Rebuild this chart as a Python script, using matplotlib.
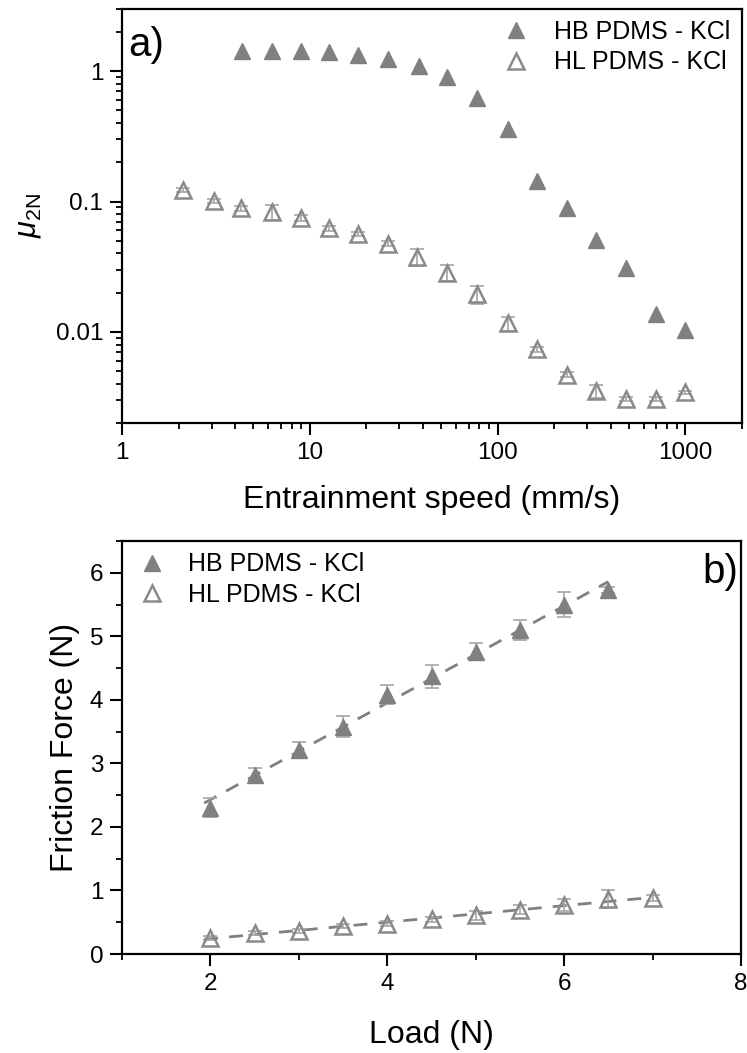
import numpy as np
import matplotlib
matplotlib.use("Agg")
import matplotlib.pyplot as plt
from matplotlib.ticker import LogLocator, NullFormatter, FixedLocator, MultipleLocator

plt.rcParams['font.family'] = ['Liberation Sans', 'DejaVu Sans']
plt.rcParams['mathtext.fontset'] = 'custom'
plt.rcParams['mathtext.rm'] = 'Liberation Sans'
plt.rcParams['mathtext.it'] = 'Liberation Sans:italic'

# ---- Panel a) data ----
speed_hb = [4.35, 6.3, 9.0, 12.6, 18, 26, 38, 54, 78, 113, 163, 233, 336, 480, 700, 1000]
mu_hb = [1.42, 1.42, 1.42, 1.40, 1.34, 1.23, 1.09, 0.90, 0.625, 0.36, 0.143, 0.089, 0.051, 0.031, 0.0137, 0.0103]

speed_hl = [2.1, 3.1, 4.3, 6.3, 9.0, 12.6, 18, 26, 37, 54, 78, 113, 163, 233, 336, 480, 700, 1000]
mu_hl = [0.122, 0.101, 0.0887, 0.0835, 0.0743, 0.0623, 0.0561, 0.0475, 0.0376, 0.0285, 0.0194,
         0.0116, 0.00736, 0.00469, 0.00353, 0.00305, 0.00305, 0.00343]
mu_hl_err = [0.004, 0.004, 0.004, 0.011, 0.004, 0.003, 0.002, 0.002, 0.0055, 0.004, 0.003,
             0.0015, 0.0003, 0.0002, 0.0004, 0.0001, 0.0001, 0.0001]

# ---- Panel b) data ----
load_hb = [2.0, 2.5, 3.0, 3.5, 4.0, 4.5, 5.0, 5.5, 6.0, 6.5]
force_hb = [2.30, 2.82, 3.21, 3.58, 4.08, 4.37, 4.76, 5.10, 5.50, 5.73]
force_hb_err = [0.15, 0.10, 0.12, 0.16, 0.15, 0.18, 0.13, 0.15, 0.20, 0.05]

load_hl = [2.0, 2.5, 3.0, 3.5, 4.0, 4.5, 5.0, 5.5, 6.0, 6.5, 7.0]
force_hl = [0.25, 0.33, 0.36, 0.44, 0.48, 0.55, 0.61, 0.70, 0.77, 0.86, 0.88]
force_hl_err = [0.03, 0.03, 0.03, 0.03, 0.04, 0.04, 0.07, 0.07, 0.10, 0.14, 0.05]

label_hb = "HB PDMS - KCl"
label_hl = "HL PDMS - KCl"

fill_c = '#808080'
edge_c = '#8a8a8a'
err_c = '#a6a6a6'

fig = plt.figure(figsize=(7.47, 10.53), dpi=100)

def style_axes(ax):
    for s in ax.spines.values():
        s.set_linewidth(1.6)
    ax.tick_params(which='major', direction='out', length=8.5, width=1.5, labelsize=17.5,
                   pad=5, top=False, right=False)
    ax.tick_params(which='minor', direction='out', length=4.5, width=1.3, top=False, right=False)

# ---- Panel a ----
ax1 = fig.add_axes([0.1633, 0.5983, 0.8300, 0.3932])
ax1.set_xscale('log')
ax1.set_yscale('log')
ax1.errorbar(speed_hl, mu_hl, yerr=mu_hl_err, fmt='none', ecolor=err_c, elinewidth=1.2,
             capsize=5, capthick=1.2, zorder=2)
ax1.plot(speed_hb, mu_hb, linestyle='none', marker='^', ms=11, mfc=fill_c, mec=fill_c,
         label=label_hb, zorder=3)
ax1.plot(speed_hl, mu_hl, linestyle='none', marker='^', ms=11, mfc='none', mec=edge_c,
         mew=1.8, label=label_hl, zorder=3)
ax1.set_xlim(1, 2000)
ax1.set_ylim(0.002, 3)
ax1.set_xticks([1, 10, 100, 1000])
ax1.set_xticklabels(['1', '10', '100', '1000'])
ax1.set_yticks([0.01, 0.1, 1])
ax1.set_yticklabels(['0.01', '0.1', '1'])
ax1.xaxis.set_minor_locator(LogLocator(base=10, subs=np.arange(2, 10)))
ax1.yaxis.set_minor_locator(LogLocator(base=10, subs=np.arange(2, 10)))
ax1.xaxis.set_minor_formatter(NullFormatter())
ax1.yaxis.set_minor_formatter(NullFormatter())
style_axes(ax1)
ax1.set_xlabel('Entrainment speed (mm/s)', fontsize=23, labelpad=15)
ax1.set_ylabel(r'$\mu_{\mathrm{2N}}$', fontsize=22)
ax1.yaxis.set_label_coords(-0.127, 0.5)
ax1.legend(loc='upper right', frameon=False, fontsize=18, handletextpad=0.8,
           borderaxespad=0.05, labelspacing=0.25, handlelength=1.5)
ax1.text(0.01, 0.96, 'a)', transform=ax1.transAxes, fontsize=29, va='top', ha='left')

# ---- Panel b ----
ax2 = fig.add_axes([0.1633, 0.0940, 0.8287, 0.3922])
p_hb = np.polyfit(load_hb, force_hb, 1)
p_hl = np.polyfit(load_hl, force_hl, 1)
xf_hb = np.array([load_hb[0] - 0.07, load_hb[-1]])
xf_hl = np.array([load_hl[0] - 0.07, load_hl[-1]])
ax2.plot(xf_hb, np.polyval(p_hb, xf_hb), linestyle=(0, (5, 4)), color=fill_c, lw=2, zorder=1)
ax2.plot(xf_hl, np.polyval(p_hl, xf_hl), linestyle=(0, (5, 4)), color=fill_c, lw=2, zorder=1)
ax2.errorbar(load_hb, force_hb, yerr=force_hb_err, fmt='none', ecolor=err_c, elinewidth=1.2,
             capsize=5, capthick=1.2, zorder=2)
ax2.errorbar(load_hl, force_hl, yerr=force_hl_err, fmt='none', ecolor=err_c, elinewidth=1.2,
             capsize=5, capthick=1.2, zorder=2)
ax2.plot(load_hb, force_hb, linestyle='none', marker='^', ms=11, mfc=fill_c, mec=fill_c,
         label=label_hb, zorder=3)
ax2.plot(load_hl, force_hl, linestyle='none', marker='^', ms=11, mfc='none', mec=edge_c,
         mew=1.8, label=label_hl, zorder=3)
ax2.set_xlim(1, 8)
ax2.set_ylim(0, 6.5)
ax2.set_xticks([2, 4, 6, 8])
ax2.xaxis.set_minor_locator(FixedLocator([1, 3, 5, 7]))
ax2.set_yticks([0, 1, 2, 3, 4, 5, 6])
ax2.yaxis.set_minor_locator(MultipleLocator(0.5))
style_axes(ax2)
ax2.set_xlabel('Load (N)', fontsize=23, labelpad=18)
ax2.set_ylabel('Friction Force (N)', fontsize=23)
ax2.yaxis.set_label_coords(-0.068, 0.5)
ax2.legend(loc='upper left', frameon=False, fontsize=18, handletextpad=0.7,
           borderaxespad=0.05, labelspacing=0.25, handlelength=1.5)
ax2.text(0.995, 0.97, 'b)', transform=ax2.transAxes, fontsize=29, va='top', ha='right')

fig.savefig('out.png', dpi=100)
